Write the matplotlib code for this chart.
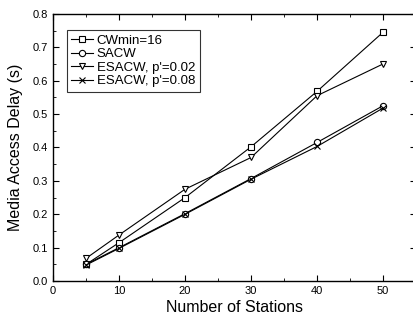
import matplotlib
matplotlib.use("Agg")
import matplotlib.pyplot as plt
from matplotlib.ticker import MultipleLocator

plt.rcParams['font.family'] = ['Liberation Sans', 'DejaVu Sans']

stations = [5, 10, 20, 30, 40, 50]
cwmin16 = [0.050, 0.115, 0.250, 0.402, 0.568, 0.745]
sacw = [0.050, 0.100, 0.202, 0.307, 0.415, 0.525]
esacw_002 = [0.068, 0.138, 0.275, 0.370, 0.555, 0.650]
esacw_008 = [0.048, 0.098, 0.200, 0.305, 0.403, 0.518]

fig = plt.figure(figsize=(4.14, 3.22), dpi=100)
ax = fig.add_axes([0.128, 0.127, 0.877, 0.83])

kw = dict(color='black', lw=0.8, ms=4.5, mfc='white', mew=0.8)
ax.plot(stations, cwmin16, marker='s', label='CWmin=16', **kw)
ax.plot(stations, sacw, marker='o', label='SACW', **kw)
ax.plot(stations, esacw_002, marker='v', label="ESACW, p'=0.02", **kw)
ax.plot(stations, esacw_008, marker='x', label="ESACW, p'=0.08", color='black', lw=0.8, ms=4.5, mew=0.8)

ax.set_xlim(0, 55)
ax.set_ylim(0, 0.8)
ax.xaxis.set_major_locator(MultipleLocator(10))
ax.xaxis.set_minor_locator(MultipleLocator(5))
ax.yaxis.set_major_locator(MultipleLocator(0.1))
ax.yaxis.set_minor_locator(MultipleLocator(0.05))
ax.yaxis.set_major_formatter(matplotlib.ticker.FormatStrFormatter('%.1f'))
ax.tick_params(which='both', direction='in', top=True, right=True, labelsize=8)
ax.tick_params(which='major', length=4)
ax.tick_params(which='minor', length=2)
for s in ax.spines.values():
    s.set_linewidth(1.0)

ax.set_xlabel('Number of Stations', fontsize=11.5, labelpad=3)
ax.set_ylabel('Media Access Delay (s)', fontsize=11.5, labelpad=7)

leg = ax.legend(loc='upper left', bbox_to_anchor=(0.02, 0.965), fontsize=9.5,
                handlelength=1.6, handletextpad=0.3, labelspacing=0.1,
                borderpad=0.35, frameon=True, fancybox=False, edgecolor='black')
leg.get_frame().set_linewidth(0.8)

fig.savefig('out.png', dpi=100)
